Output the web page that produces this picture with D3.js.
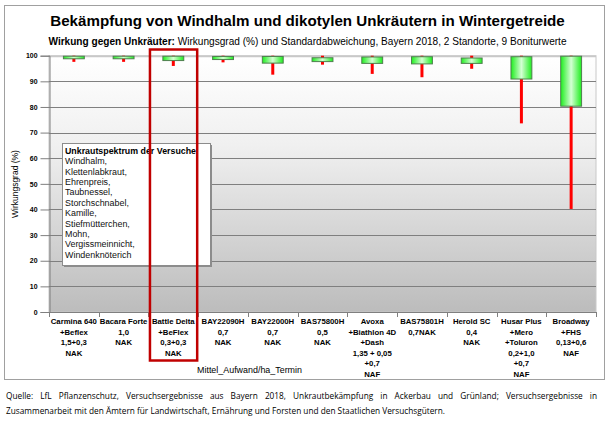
<!DOCTYPE html>
<html><head><meta charset="utf-8">
<script src="https://cdn.jsdelivr.net/npm/d3@7"></script>
<style>html,body{margin:0;padding:0;background:#fff;} svg{display:block;}</style>
</head><body>
<script>
// ---- data ----
const categories = [
  ["Carmina 640","+Beflex","1,5+0,3","NAK"],
  ["Bacara Forte","1,0","NAK"],
  ["Battle Delta","+BeFlex","0,3+0,3","NAK"],
  ["BAY22090H","0,7","NAK"],
  ["BAY22000H","0,7","NAK"],
  ["BAS75800H","0,5","NAK"],
  ["Avoxa","+Biathlon 4D","+Dash","1,35 + 0,05","+0,7","NAF"],
  ["BAS75801H","0,7NAK"],
  ["Herold SC","0,4","NAK"],
  ["Husar Plus","+Mero","+Toluron","0,2+1,0","+0,7","NAF"],
  ["Broadway","+FHS","0,13+0,6","NAF"]
];
const highVals   = [100,100,100,100,100,100,100,100,100,100,100];
const boxTop     = [99.8,99.8,99.8,99.7,99.7,99.2,99.5,99.6,99.1,99.6,99.8];
const boxBottom  = [98.8,98.8,98.1,98.5,97.1,97.7,97.0,96.8,97.0,90.9,80.3];
const lowVals    = [97.6,97.6,96.0,97.4,92.6,96.5,92.9,91.6,94.9,73.6,40.2];
const yTicks     = [0,10,20,30,40,50,60,70,80,90,100];
const legendTitle = "Unkrautspektrum der Versuche";
const legendItems = ["Windhalm,","Klettenlabkraut,","Ehrenpreis,","Taubnessel,","Storchschnabel,","Kamille,","Stiefmütterchen,","Mohn,","Vergissmeinnicht,","Windenknöterich"];
const titleText = "Bekämpfung von Windhalm und dikotylen Unkräutern in Wintergetreide";
const subBold = "Wirkung gegen Unkräuter:";
const subRest = " Wirkungsgrad  (%) und Standardabweichung,  Bayern 2018, 2 Standorte,  9 Boniturwerte";
const yTitle = "Wirkungsgrad  (%)";
const xTitle = "Mittel_Aufwand/ha_Termin";
const footer = ["Quelle: LfL Pflanzenschutz, Versuchsergebnisse aus Bayern 2018, Unkrautbekämpfung in Ackerbau und Grünland; Versuchsergebnisse in",
                "Zusammenarbeit mit den Ämtern für Landwirtschaft, Ernährung und Forsten und den Staatlichen Versuchsgütern."];
const highlightIndex = 2;

// ---- setup ----
const W = 615, H = 429;
const FONT = "'Liberation Sans', Arial, sans-serif";
const svg = d3.select("body").append("svg").attr("width", W).attr("height", H);

function fitSize(text, weight, family, target) {
  const t = svg.append("text").attr("font-size", 100).attr("font-weight", weight)
    .attr("font-family", family).text(text);
  const len = t.node().getComputedTextLength();
  t.remove();
  return 100 * target / len;
}

const defs = svg.append("defs");
const bg = defs.append("linearGradient").attr("id","bg").attr("x1",0).attr("y1",0).attr("x2",0).attr("y2",1);
bg.append("stop").attr("offset","0%").attr("stop-color","#ffffff");
bg.append("stop").attr("offset","35%").attr("stop-color","#f0f0f0");
bg.append("stop").attr("offset","100%").attr("stop-color","#bcbcbc");
const bx = defs.append("linearGradient").attr("id","bx").attr("x1",0).attr("y1",0).attr("x2",1).attr("y2",0);
bx.append("stop").attr("offset","0%").attr("stop-color","#1fee1f");
bx.append("stop").attr("offset","50%").attr("stop-color","#d4ffd4");
bx.append("stop").attr("offset","100%").attr("stop-color","#1fee1f");

// outer border
svg.append("rect").attr("x",4.5).attr("y",5.5).attr("width",600).attr("height",374)
  .attr("fill","none").attr("stroke","#a0a0a0").attr("stroke-width",1);

// title
const tSize = fitSize(titleText, "bold", FONT, 515);
svg.append("text").attr("x",307.5).attr("y",26).attr("text-anchor","middle")
  .attr("font-family",FONT).attr("font-weight","bold").attr("font-size",tSize).text(titleText);

// subtitle
const sub = svg.append("text").attr("x",307.5).attr("y",44.5).attr("text-anchor","middle")
  .attr("font-family",FONT).attr("font-size",100);
sub.append("tspan").attr("font-weight","bold").text(subBold);
sub.append("tspan").text(subRest);
const subLen = sub.node().getComputedTextLength();
sub.attr("font-size", 100 * 519 / subLen);

// scales
const x = d3.scaleBand().domain(d3.range(categories.length)).range([49, 596]).paddingInner(0).paddingOuter(0);
const y = d3.scaleLinear().domain([0, 100]).range([312, 55.7]);

// plot background
svg.append("rect").attr("x",49).attr("y",y(100)).attr("width",547).attr("height",y(0)-y(100))
  .attr("fill","url(#bg)").attr("stroke","#c8c8c8").attr("stroke-width",1);

// gridlines
svg.append("g").selectAll("line").data(yTicks.filter(d=>d>0)).join("line")
  .attr("x1",49).attr("x2",596).attr("y1",d=>Math.round(y(d))+0.5).attr("y2",d=>Math.round(y(d))+0.5)
  .attr("stroke",d=>d===100?"#c8c8c8":"#7f7f7f").attr("stroke-width",d=>d===100?1.5:1);

// y axis
const ytSize = fitSize("100","bold",FONT,11.6);
const yAxis = svg.append("g").attr("transform","translate(49.5,0)")
  .call(d3.axisLeft(y).tickValues(yTicks).tickSize(9).tickPadding(3).tickFormat(d3.format("d")));
yAxis.select(".domain").attr("stroke","#7f7f7f");
yAxis.selectAll(".tick line").attr("stroke","#7f7f7f");
yAxis.selectAll(".tick text").attr("font-family",FONT).attr("font-weight","bold").attr("font-size",ytSize).attr("fill","#000");

// x baseline & ticks
svg.append("line").attr("x1",49).attr("x2",596).attr("y1",312.5).attr("y2",312.5).attr("stroke","#7f7f7f");
const bounds = d3.range(categories.length).map(i => x(i)).concat([x(categories.length-1)+x.bandwidth()]);
svg.append("g").selectAll("line").data(bounds).join("line")
  .attr("x1",d=>Math.round(d)+0.5).attr("x2",d=>Math.round(d)+0.5).attr("y1",312).attr("y2",317)
  .attr("stroke","#7f7f7f");

// x labels
const xlSize = fitSize("BAY22090H","bold",FONT,43);
const xl = svg.append("g");
categories.forEach((lines, i) => {
  const t = xl.append("text").attr("text-anchor","middle").attr("font-family",FONT)
    .attr("font-weight","bold").attr("font-size",xlSize).attr("fill","#000");
  lines.forEach((ln, j) => {
    t.append("tspan").attr("x", x(i) + x.bandwidth()/2).attr("y", 324 + j*10.5).text(ln);
  });
});

// x title
const xtSize = fitSize(xTitle,"normal",FONT,105);
svg.append("text").attr("x",249.5).attr("y",372.5).attr("text-anchor","middle")
  .attr("font-family",FONT).attr("font-size",xtSize).text(xTitle);

// y title
const ytlSize = fitSize(yTitle,"normal",FONT,68);
svg.append("text").attr("transform","translate(18,184) rotate(-90)").attr("text-anchor","middle")
  .attr("font-family",FONT).attr("font-size",ytlSize).text(yTitle);

// whiskers
const bw = x.bandwidth()*0.42;
svg.append("g").selectAll("line").data(d3.range(categories.length)).join("line")
  .attr("x1",i=>x(i)+x.bandwidth()/2).attr("x2",i=>x(i)+x.bandwidth()/2)
  .attr("y1",i=>y(highVals[i])).attr("y2",i=>y(lowVals[i]))
  .attr("stroke","#ff0000").attr("stroke-width",3);

// boxes
svg.append("g").selectAll("rect").data(d3.range(categories.length)).join("rect")
  .attr("x",i=>x(i)+x.bandwidth()/2-bw/2).attr("width",bw)
  .attr("y",i=>y(boxTop[i])).attr("height",i=>Math.max(2,y(boxBottom[i])-y(boxTop[i])))
  .attr("fill","url(#bx)").attr("stroke","#4f7f4f").attr("stroke-width",1);

// legend box
const lg = svg.append("g");
lg.append("rect").attr("x",64).attr("y",145).attr("width",148).attr("height",122).attr("fill","#8c8c8c");
lg.append("rect").attr("x",62.5).attr("y",143.5).attr("width",148).attr("height",122)
  .attr("fill","#fff").attr("stroke","#8c8c8c").attr("stroke-width",1);
const lhSize = fitSize(legendTitle,"bold",FONT,131);
lg.append("text").attr("x",65).attr("y",153.5).attr("font-family",FONT).attr("font-weight","bold")
  .attr("font-size",lhSize).attr("textLength",131).attr("lengthAdjust","spacingAndGlyphs")
  .attr("fill","#000").text(legendTitle);
const liSize = fitSize("Klettenlabkraut,","normal",FONT,62);
const lt = lg.append("text").attr("font-family",FONT).attr("font-size",liSize).attr("fill","#111");
legendItems.forEach((it, j) => {
  lt.append("tspan").attr("x",65).attr("y",164.2 + j*10.4).text(it);
});

// highlight rect
svg.append("rect").attr("x",x(highlightIndex)+1.5).attr("y",49.5)
  .attr("width",x.bandwidth()-2.5).attr("height",311)
  .attr("fill","none").attr("stroke","#c00000").attr("stroke-width",2.5);

// footer (first line justified, second natural)
const fFont = "'Open Sans', 'Liberation Sans', sans-serif";
const fSize = fitSize(footer[1],"normal",fFont,440);
const f1 = svg.append("text").attr("x",6).attr("y",399).attr("font-family",fFont)
  .attr("font-size",fSize).attr("fill","#000").text(footer[0]);
const nat = f1.node().getComputedTextLength();
const nSpaces = (footer[0].match(/ /g) || []).length;
f1.attr("word-spacing", Math.max(0, (591 - nat) / nSpaces));
svg.append("text").attr("x",6).attr("y",414).attr("font-family",fFont)
  .attr("font-size",fSize).attr("fill","#000").text(footer[1]);
</script>
</body></html>
